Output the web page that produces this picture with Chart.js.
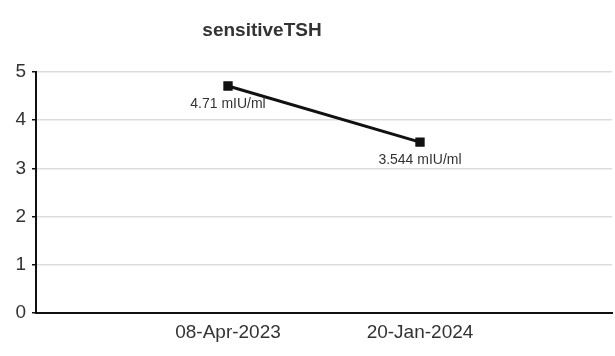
<!DOCTYPE html>
<html>
<head>
<meta charset="utf-8">
<script src="https://cdn.jsdelivr.net/npm/chart.js@4"></script>
<style>
  html, body { margin: 0; padding: 0; background: #fff; overflow: hidden; }
  #wrap { width: 615px; height: 356px; position: relative; }
  canvas { display: block; }
</style>
</head>
<body>
<div id="wrap"><canvas id="myChart"></canvas></div>
<script>
// data
const chartTitle = 'sensitiveTSH';
const dates = ['', '08-Apr-2023', '20-Jan-2024', ''];
const tshValues = [null, 4.71, 3.544, null];
const unit = 'mIU/ml';
const yTicks = [0, 1, 2, 3, 4, 5];

// title + point labels drawn on the canvas
const labelPlugin = {
  id: 'labelPlugin',
  afterDraw(chart) {
    const ctx = chart.ctx;
    ctx.save();
    ctx.fillStyle = '#333';
    ctx.textAlign = 'center';
    ctx.textBaseline = 'middle';
    ctx.font = 'bold 19px "Liberation Sans", Arial, sans-serif';
    ctx.fillText(chartTitle, 262, 31);

    ctx.font = '14px "Liberation Sans", Arial, sans-serif';
    const meta = chart.getDatasetMeta(0);
    meta.data.forEach((pt, i) => {
      if (tshValues[i] == null) return;
      ctx.fillText(tshValues[i] + ' ' + unit, pt.x, pt.y + 18);
    });
    ctx.restore();
  }
};

new Chart(document.getElementById('myChart'), {
  type: 'line',
  data: {
    labels: dates,
    datasets: [{
      label: chartTitle,
      data: tshValues,
      borderColor: '#111',
      backgroundColor: '#111',
      borderWidth: 3,
      pointStyle: 'rect',
      pointRadius: 4.5,
      spanGaps: false
    }]
  },
  options: {
    responsive: true,
    maintainAspectRatio: false,
    animation: false,
    layout: { autoPadding: false, padding: { top: 72, right: 3, left: 0, bottom: 0 } },
    plugins: {
      legend: { display: false },
      title: { display: false },
      tooltip: { enabled: false }
    },
    scales: {
      x: {
        offset: false,
        grid: { display: false, drawTicks: false },
        border: { color: '#111', width: 2 },
        ticks: {
          color: '#333',
          font: { size: 19, family: '"Liberation Sans", Arial, sans-serif' },
          padding: 8,
          maxRotation: 0,
          autoSkip: false
        },
        afterFit(scale) {
          scale.height = 43;
          scale.paddingRight = 0;
          scale.paddingLeft = 0;
        }
      },
      y: {
        min: 0,
        max: 5,
        afterBuildTicks(scale) { scale.ticks = yTicks.map(v => ({ value: v })); },
        grid: { color: '#ddd', lineWidth: 1.5, tickLength: 4, tickColor: '#111' },
        border: { color: '#111', width: 2 },
        ticks: {
          color: '#333',
          font: { size: 19, family: '"Liberation Sans", Arial, sans-serif' },
          padding: 6
        },
        afterFit(scale) { scale.width = 36; }
      }
    }
  },
  plugins: [labelPlugin]
});
</script>
</body>
</html>
